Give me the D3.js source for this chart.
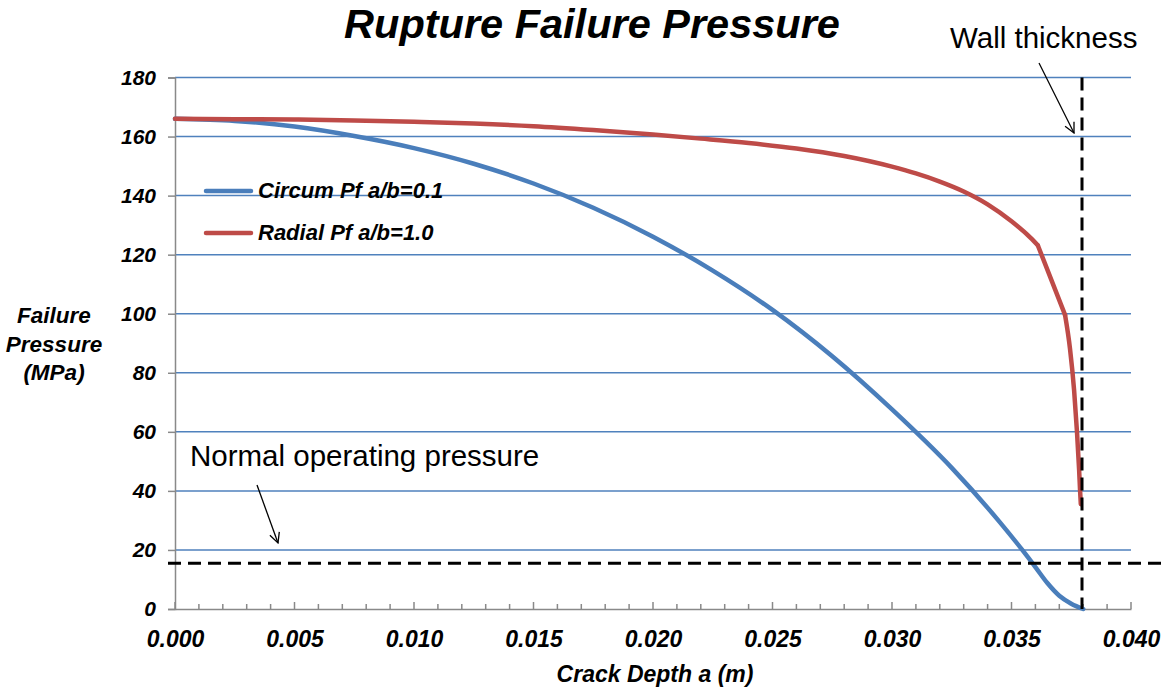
<!DOCTYPE html>
<html><head><meta charset="utf-8">
<script src="https://cdn.jsdelivr.net/npm/d3@7"></script>
<style>html,body{margin:0;padding:0;background:#fff;}svg{display:block;font-family:Arial,"Liberation Sans",sans-serif;}</style>
</head><body>
<svg id="chart" width="1168" height="691"></svg>
<script>
const xTickValues = [0, 0.005, 0.010, 0.015, 0.020, 0.025, 0.030, 0.035, 0.040];
const yTickValues = [0, 20, 40, 60, 80, 100, 120, 140, 160, 180];
const seriesNames = ["Circum Pf a/b=0.1", "Radial Pf a/b=1.0"];
const circumDepth = [0, 0.0025, 0.005, 0.0075, 0.010, 0.0125, 0.015, 0.0175, 0.020, 0.0225, 0.025, 0.0275, 0.030, 0.0325, 0.0345, 0.0355, 0.036, 0.0365, 0.037, 0.0375, 0.038];
const circumPf    = [166, 165.3, 163.4, 160.2, 156.1, 150.8, 144.1, 135.9, 126.1, 114.6, 101.3, 85.6, 67.6, 47.8, 29.5, 19.5, 14.2, 8.8, 4.5, 1.8, 0];
const radialDepth = [0, 0.0025, 0.005, 0.0075, 0.010, 0.0125, 0.015, 0.0175, 0.020, 0.022, 0.024, 0.026, 0.028, 0.030, 0.031, 0.032, 0.033, 0.034, 0.035, 0.0358, 0.0361, 0.03724, 0.03745, 0.03762, 0.03774, 0.03783, 0.03787, 0.0379];
const radialPf    = [166, 165.9, 165.75, 165.45, 165.0, 164.4, 163.5, 162.2, 160.7, 159.3, 157.8, 155.95, 153.4, 149.8, 147.5, 144.75, 141.4, 137.05, 131.3, 125.7, 123.2, 99.6, 88, 74, 60, 47, 40, 35.5];
const operatingPressure = 15.5;
const wallThickness = 0.03795;

const svg = d3.select("#chart");
const x = d3.scaleLinear().domain([0, 0.04]).range([175, 1131]);
const y = d3.scaleLinear().domain([0, 180]).range([609, 77.5]);
const blue = "#4A7EBB", red = "#BE4B48", grid = "#4F81BD", axisGrey = "#898989";
const FONT = "Arial, 'Liberation Sans', sans-serif";

// gridlines
svg.append("g").selectAll("line").data(yTickValues.filter(v => v > 0)).join("line")
  .attr("x1", x(0)).attr("x2", x(0.04)).attr("y1", d => y(d)).attr("y2", d => y(d))
  .attr("stroke", grid).attr("stroke-width", 1.5);

// y axis
const yAxis = d3.axisLeft(y).tickValues(yTickValues).tickSize(7).tickPadding(12).tickFormat(d3.format("d"));
const gy = svg.append("g").attr("transform", `translate(${x(0)},0)`).call(yAxis);
gy.select(".domain").attr("stroke", axisGrey).attr("stroke-width", 1.5);
gy.selectAll(".tick line").attr("stroke", axisGrey).attr("stroke-width", 1.5);
gy.selectAll(".tick text").attr("font-size", 21).attr("font-weight", "bold").attr("font-style", "italic")
  .attr("fill", "#000").attr("font-family", FONT);

// x axis minor ticks (inside)
const minor = d3.range(0, 41).map(i => i / 1000);
svg.append("g").selectAll("line").data(minor).join("line")
  .attr("x1", d => x(d)).attr("x2", d => x(d))
  .attr("y1", y(0)).attr("y2", (d, i) => y(0) - (i % 5 === 0 ? 7 : 5))
  .attr("stroke", axisGrey).attr("stroke-width", 1.5);
const xAxis = d3.axisBottom(x).tickValues(xTickValues).tickSize(0).tickPadding(22).tickFormat(d3.format(".3f"));
const gx = svg.append("g").attr("transform", `translate(0,${y(0)})`).call(xAxis);
gx.select(".domain").attr("stroke", axisGrey).attr("stroke-width", 1.5);
gx.selectAll(".tick text").attr("font-size", 23).attr("font-weight", "bold").attr("font-style", "italic")
  .attr("fill", "#000").attr("font-family", FONT);

// series
const smooth = d3.line().curve(d3.curveMonotoneX).x(d => x(d[0])).y(d => y(d[1]));
const straight = d3.line().curve(d3.curveLinear).x(d => x(d[0])).y(d => y(d[1]));
const circum = circumDepth.map((d, i) => [d, circumPf[i]]);
const radial = radialDepth.map((d, i) => [d, radialPf[i]]);
const kink = radialDepth.indexOf(0.0361);
const lineStyle = (p, c) => p.attr("fill", "none").attr("stroke", c).attr("stroke-width", 4.5)
  .attr("stroke-linecap", "round").attr("stroke-linejoin", "round");
svg.append("path").datum(circum).attr("d", smooth).call(lineStyle, blue);
svg.append("path").datum(radial.slice(0, kink + 1)).attr("d", smooth).call(lineStyle, red);
svg.append("path").datum(radial.slice(kink, kink + 2)).attr("d", straight).call(lineStyle, red);
svg.append("path").datum(radial.slice(kink + 1)).attr("d", smooth).call(lineStyle, red);

// reference dashed lines
svg.append("line").attr("x1", 168).attr("x2", 1168).attr("y1", y(operatingPressure)).attr("y2", y(operatingPressure))
  .attr("stroke", "#000").attr("stroke-width", 3).attr("stroke-dasharray", "13,7");
svg.append("line").attr("x1", x(wallThickness)).attr("x2", x(wallThickness)).attr("y1", y(180)).attr("y2", y(0))
  .attr("stroke", "#000").attr("stroke-width", 3).attr("stroke-dasharray", "13,7");

// legend
const legend = svg.append("g");
[[blue, 191, 198], [red, 233, 240]].forEach((s, i) => {
  legend.append("line").attr("x1", 206).attr("x2", 251).attr("y1", s[1]).attr("y2", s[1])
    .attr("stroke", s[0]).attr("stroke-width", 4.5).attr("stroke-linecap", "round");
  legend.append("text").attr("x", 258).attr("y", s[2]).text(seriesNames[i])
    .attr("font-size", 22).attr("font-weight", "bold").attr("font-style", "italic");
});

// titles
svg.append("text").attr("x", 592).attr("y", 38).attr("text-anchor", "middle").text("Rupture Failure Pressure")
  .attr("font-size", 41.5).attr("font-weight", "bold").attr("font-style", "italic");
svg.append("text").attr("x", 655).attr("y", 682).attr("text-anchor", "middle").text("Crack Depth a (m)")
  .attr("font-size", 23).attr("font-weight", "bold").attr("font-style", "italic");
const yt = svg.append("text").attr("text-anchor", "middle").attr("font-size", 22.5).attr("font-weight", "bold").attr("font-style", "italic");
["Failure", "Pressure", "(MPa)"].forEach((t, i) => yt.append("tspan").attr("x", 54).attr("y", 323 + i * 28.5).text(t));

// annotations
svg.append("defs").append("marker").attr("id", "arr").attr("viewBox", "0 0 12 12").attr("refX", 11).attr("refY", 6)
  .attr("markerWidth", 12).attr("markerHeight", 12).attr("markerUnits", "userSpaceOnUse").attr("orient", "auto")
  .append("path").attr("d", "M1,1 L11,6 L1,11").attr("fill", "none").attr("stroke", "#000").attr("stroke-width", 1.3);
svg.append("text").attr("x", 950).attr("y", 48).text("Wall thickness").attr("font-size", 29.5);
svg.append("line").attr("x1", 1039).attr("y1", 63).attr("x2", 1074).attr("y2", 133)
  .attr("stroke", "#000").attr("stroke-width", 1.3).attr("marker-end", "url(#arr)");
svg.append("text").attr("x", 190).attr("y", 466).text("Normal operating pressure").attr("font-size", 29.5);
svg.append("line").attr("x1", 257).attr("y1", 485).attr("x2", 278).attr("y2", 543)
  .attr("stroke", "#000").attr("stroke-width", 1.3).attr("marker-end", "url(#arr)");
</script>
</body></html>
